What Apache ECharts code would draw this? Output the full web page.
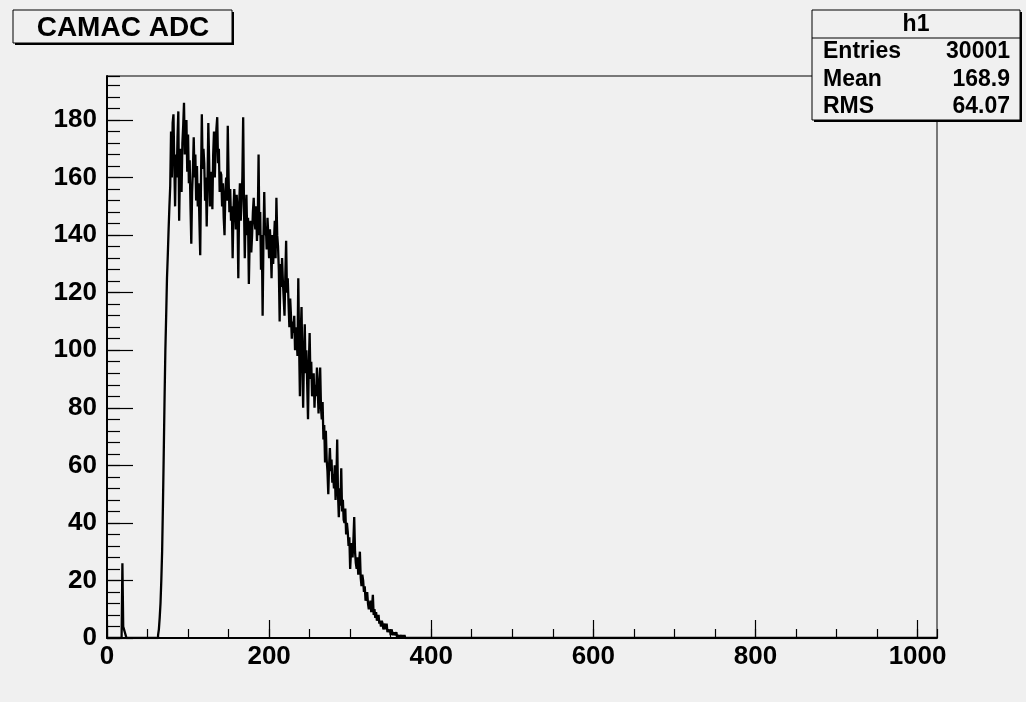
<!DOCTYPE html>
<html>
<head>
<meta charset="utf-8">
<title>CAMAC ADC</title>
<script src="https://cdn.jsdelivr.net/npm/echarts@6/dist/echarts.min.js"></script>
<style>
  html, body { margin: 0; padding: 0; background: #f0f0f0; }
  #chart { width: 1026px; height: 702px; }
</style>
</head>
<body>
<div id="chart"></div>
<script>
// Histogram h1: 1024 ADC channels, unit-width bins.
const binCount = 1024;
const xMax = 1024;
const yMax = 195.3;

// Small pedestal spike near channel 19.
const spikeStart = 19;
const spikeCounts = [26, 4, 3, 2, 1];

// Main pulse-height distribution, channels 62 to 367.
const pulseStart = 62;
const pulseCounts = [
  0, 1, 3, 7, 12, 20, 30, 46, 64, 83,
  100, 112, 125, 133, 142, 150, 157, 176, 160, 179,
  182, 165, 150, 168, 160, 174, 183, 145, 162, 170,
  155, 172, 178, 186, 168, 175, 180, 162, 175, 158,
  166, 150, 137, 155, 163, 174, 160, 168, 152, 164,
  150, 158, 145, 133, 160, 182, 163, 170, 165, 152,
  160, 143, 158, 179, 166, 150, 158, 162, 149, 168,
  176, 160, 170, 177, 181, 165, 170, 155, 162, 161,
  150, 158, 146, 140, 155, 160, 152, 178, 160, 148,
  156, 145, 150, 132, 148, 156, 150, 142, 154, 147,
  125, 150, 158, 145, 152, 160, 181, 150, 132, 148,
  154, 140, 146, 123, 138, 145, 134, 140, 148, 153,
  145, 142, 150, 138, 145, 168, 140, 148, 128, 140,
  112, 138, 155, 140, 143, 135, 146, 140, 132, 142,
  136, 125, 140, 130, 138, 145, 132, 153, 140, 136,
  128, 110, 130, 122, 132, 124, 118, 112, 126, 138,
  120, 125, 116, 108, 118, 112, 104, 110, 106, 112,
  100, 108, 104, 98, 125, 102, 84, 106, 115, 96,
  80, 98, 109, 92, 100, 88, 76, 95, 106, 90,
  96, 84, 87, 92, 80, 88, 84, 94, 86, 78,
  88, 94, 80, 76, 82, 69, 74, 61, 72, 62,
  58, 50, 60, 66, 58, 62, 54, 57, 52, 60,
  48, 55, 69, 50, 42, 52, 46, 59, 44, 48,
  41, 40, 45, 36, 40, 37, 32, 35, 24, 30,
  33, 28, 34, 42, 30, 26, 24, 28, 22, 26,
  30, 21, 18, 22, 20, 16, 18, 13, 14, 16,
  12, 10, 11, 13, 9, 11, 15, 8, 10, 7,
  9, 6, 7, 8, 5, 6, 4, 6, 5, 3,
  4, 5, 3, 5, 2, 3, 2, 3, 1, 3,
  2, 1, 2, 1, 1, 2, 0, 1, 1, 0,
  1, 1, 0, 1, 0, 1
];

// Statistics box contents.
const statsTitle = 'h1';
const statsLabels = ['Entries', 'Mean', 'RMS'];
const statsValues = ['30001', '168.9', '64.07'];
const histTitle = 'CAMAC ADC';

// Fill the full channel table from the pieces above.
const counts = new Array(binCount).fill(0);
spikeCounts.forEach((v, i) => { counts[spikeStart + i] = v; });
pulseCounts.forEach((v, i) => { counts[pulseStart + i] = v; });

// Step outline: each bin drawn from its low edge to its high edge.
const stepData = counts.map((v, k) => [k, v]);
stepData.push([binCount, counts[binCount - 1]]);

const FONT = '"Liberation Sans", Arial, Helvetica, sans-serif';
const labelStyle = {
  color: '#000', fontFamily: FONT, fontWeight: 'bold', fontSize: 26,
  formatter: v => String(Math.round(v))
};

const chart = echarts.init(document.getElementById('chart'), null, { renderer: 'canvas' });

const statsGraphics = [];
const bx = 812, by = 10, bw = 208, bh = 110;
// drop shadow of the stats pave
statsGraphics.push({ type: 'rect', shape: { x: bx + 2, y: by + 2, width: bw, height: bh }, style: { fill: '#000' }, z: 10 });
statsGraphics.push({ type: 'rect', shape: { x: bx, y: by, width: bw, height: bh }, style: { fill: '#f0f0f0', stroke: '#000', lineWidth: 1 }, z: 11 });
statsGraphics.push({ type: 'line', shape: { x1: bx, y1: 38, x2: bx + bw, y2: 38 }, style: { stroke: '#000', lineWidth: 1 }, z: 12 });
statsGraphics.push({ type: 'text', x: bx + bw / 2, y: 25, style: { text: statsTitle, fill: '#000', font: 'bold 23px ' + FONT, textAlign: 'center', textVerticalAlign: 'middle' }, z: 12 });
const rowY = [52, 80, 107];
statsLabels.forEach((lab, i) => {
  statsGraphics.push({ type: 'text', x: 823, y: rowY[i], style: { text: lab, fill: '#000', font: 'bold 23px ' + FONT, textAlign: 'left', textVerticalAlign: 'middle' }, z: 12 });
  statsGraphics.push({ type: 'text', x: 1010, y: rowY[i], style: { text: statsValues[i], fill: '#000', font: 'bold 23px ' + FONT, textAlign: 'right', textVerticalAlign: 'middle' }, z: 12 });
});

const titleGraphics = [
  { type: 'rect', shape: { x: 15, y: 12, width: 219, height: 33 }, style: { fill: '#000' }, z: 10 },
  { type: 'rect', shape: { x: 13, y: 10, width: 219, height: 33 }, style: { fill: '#f0f0f0', stroke: '#000', lineWidth: 1 }, z: 11 },
  { type: 'text', x: 123, y: 28, style: { text: histTitle, fill: '#000', font: 'bold 28px ' + FONT, textAlign: 'center', textVerticalAlign: 'middle' }, z: 12 }
];

chart.setOption({
  animation: false,
  backgroundColor: '#f0f0f0',
  grid: {
    left: 107, top: 76, width: 830, height: 562,
    show: true, borderColor: '#000', borderWidth: 1, backgroundColor: 'transparent'
  },
  xAxis: [
    {
      type: 'value', min: 0, max: xMax, interval: 200, position: 'bottom',
      axisLine: { show: true, onZero: false, lineStyle: { color: '#000', width: 2 } },
      axisTick: { show: true, inside: true, length: 18, lineStyle: { color: '#000', width: 1.2 } },
      axisLabel: Object.assign({ margin: 6, showMaxLabel: false }, labelStyle),
      splitLine: { show: false }
    },
    {
      type: 'value', min: 0, max: xMax, interval: 50, position: 'bottom',
      axisLine: { show: false },
      axisTick: { show: true, inside: true, length: 9, lineStyle: { color: '#000', width: 1.2 } },
      axisLabel: { show: false },
      splitLine: { show: false }
    }
  ],
  yAxis: [
    {
      type: 'value', min: 0, max: yMax, interval: 20, position: 'left',
      axisLine: { show: true, onZero: false, lineStyle: { color: '#000', width: 2 } },
      axisTick: { show: true, inside: true, length: 26, lineStyle: { color: '#000', width: 1.2 } },
      axisLabel: Object.assign({ margin: 10, showMaxLabel: false }, labelStyle),
      splitLine: { show: false }
    },
    {
      type: 'value', min: 0, max: yMax, interval: 4, position: 'left',
      axisLine: { show: false },
      axisTick: { show: true, inside: true, length: 13, lineStyle: { color: '#000', width: 1.2 } },
      axisLabel: { show: false },
      splitLine: { show: false }
    }
  ],
  series: [{
    type: 'line',
    xAxisIndex: 0,
    yAxisIndex: 0,
    data: stepData,
    step: 'end',
    showSymbol: false,
    symbol: 'none',
    lineStyle: { color: '#000', width: 2.3 },
    clip: true,
    z: 5
  }],
  graphic: titleGraphics.concat(statsGraphics)
});
</script>
</body>
</html>
